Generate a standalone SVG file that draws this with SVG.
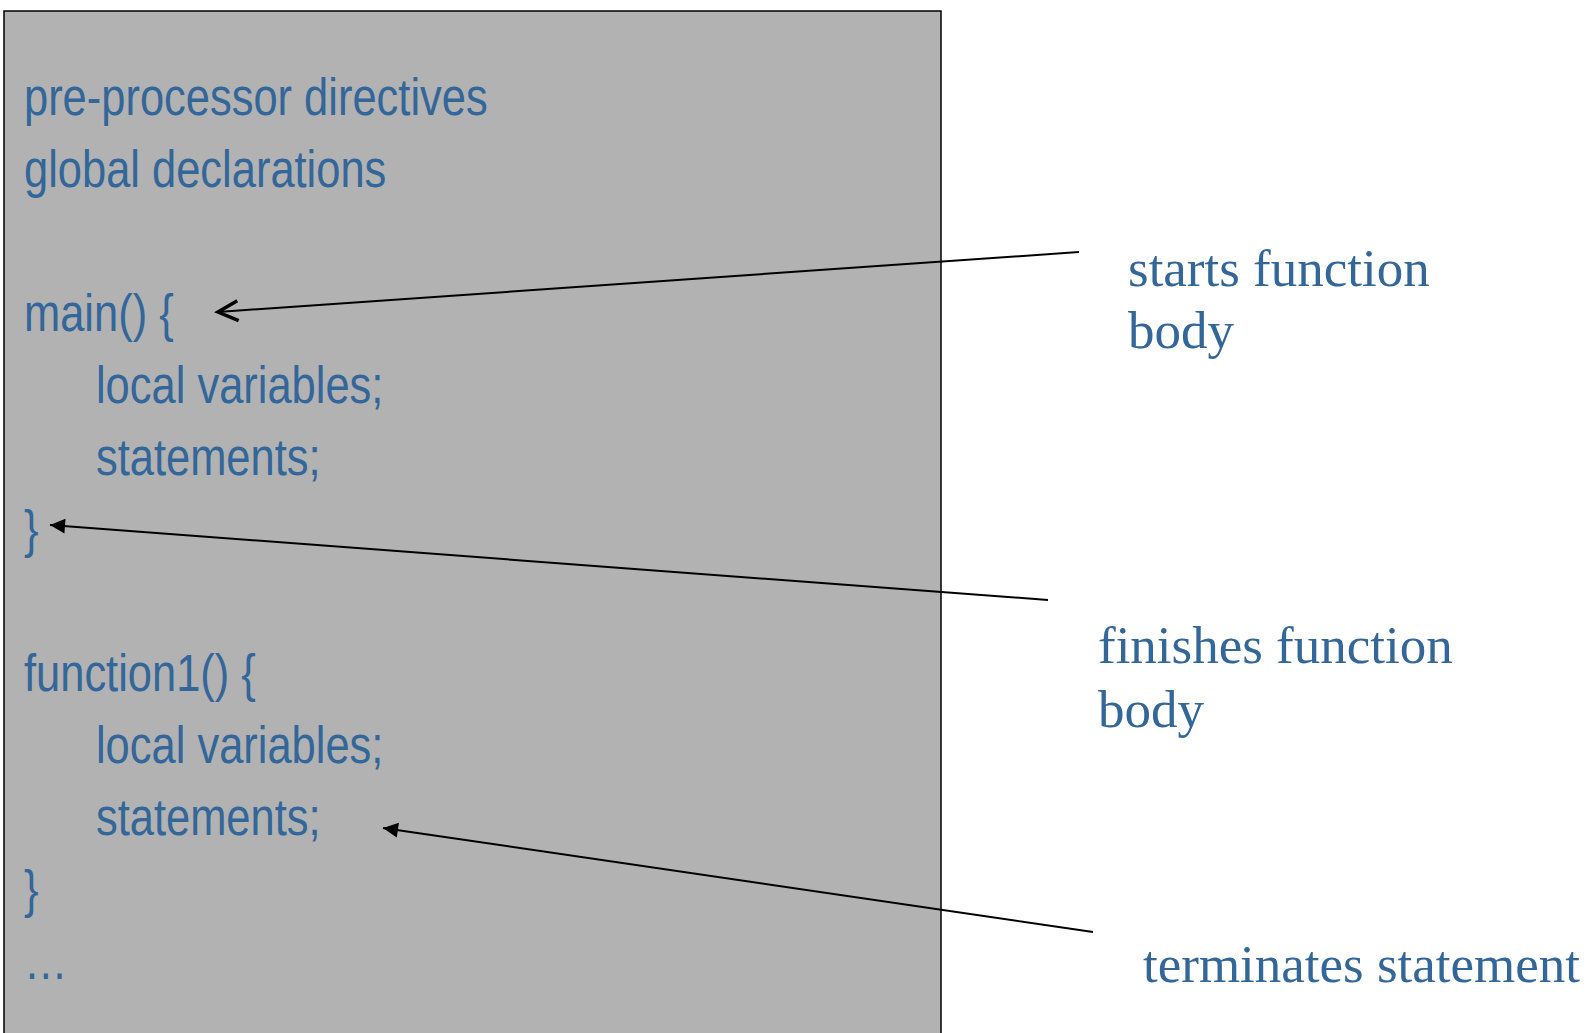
<svg xmlns="http://www.w3.org/2000/svg" width="1587" height="1033" viewBox="0 0 1587 1033">
<style>
.code{font-family:"Liberation Sans",Arial,sans-serif;font-size:52px;fill:#336699}
.lab{font-family:"Liberation Serif","Times New Roman",serif;font-size:53px;fill:#336699}
.ln{stroke:#000;stroke-width:2;fill:none}
</style>
<defs>
<marker id="open" markerUnits="userSpaceOnUse" markerWidth="30" markerHeight="30" viewBox="-26 -15 30 30" refX="0" refY="0" orient="auto">
<path d="M-20,-10 L0,0 L-20,10" fill="none" stroke="#000" stroke-width="3.5"/>
</marker>
<marker id="fill" markerUnits="userSpaceOnUse" markerWidth="20" markerHeight="20" viewBox="-18 -10 20 20" refX="0" refY="0" orient="auto">
<path d="M-15,-7.5 L0,0 L-15,7.5 Z" fill="#000"/>
</marker>
</defs>
<rect width="1587" height="1033" fill="#fff"/>
<g id="box">
<rect x="4" y="11" width="937" height="1040" fill="#b2b2b2" stroke="#000" stroke-width="1.5"/>
</g>
<g id="code" transform="scale(0.836,1)">
<text class="code" x="28.7" y="115">pre-processor directives</text>
<text class="code" x="28.7" y="187">global declarations</text>
<text class="code" x="28.7" y="331">main() {</text>
<text class="code" x="114.8" y="403">local variables;</text>
<text class="code" x="114.8" y="475">statements;</text>
<text class="code" x="28.7" y="547">}</text>
<text class="code" x="28.7" y="691">function1() {</text>
<text class="code" x="114.8" y="763">local variables;</text>
<text class="code" x="114.8" y="835">statements;</text>
<text class="code" x="28.7" y="907">}</text>
<text class="code" x="28.7" y="979">…</text>
</g>
<g id="connectors">
<line class="ln" x1="1079" y1="252" x2="218" y2="312" marker-end="url(#open)"/>
<line class="ln" x1="1048" y1="600" x2="50" y2="525" marker-end="url(#fill)"/>
<line class="ln" x1="1093" y1="932" x2="383" y2="828" marker-end="url(#fill)"/>
</g>
<g id="label-starts">
<text class="lab" x="1128" y="286">starts function</text>
<text class="lab" x="1128" y="348">body</text>
</g>
<g id="label-finishes">
<text class="lab" x="1098" y="663">finishes function</text>
<text class="lab" x="1098" y="727">body</text>
</g>
<g id="label-terminates">
<text class="lab" x="1143" y="982">terminates statement</text>
</g>
</svg>
